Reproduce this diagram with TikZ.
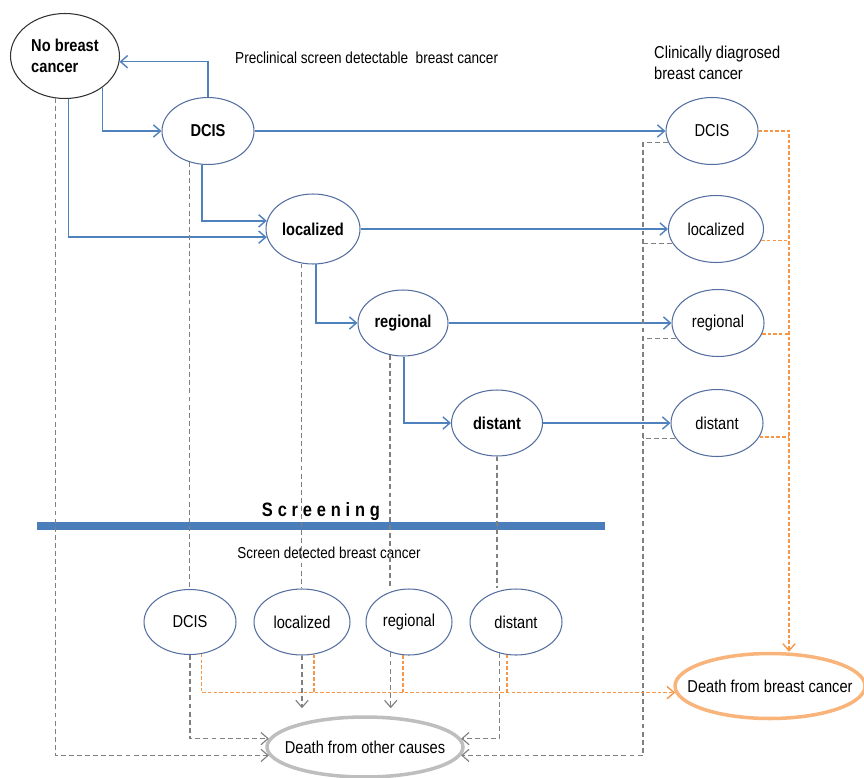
\documentclass[tikz,border=0pt]{standalone}
\usepackage{fontspec}
\setmainfont{Liberation Sans}[FakeStretch=0.85]
\usetikzlibrary{shapes.geometric,arrows.meta}
\definecolor{blucol}{RGB}{79,129,189}
\definecolor{ellcol}{RGB}{84,110,160}
\definecolor{grigiocol}{RGB}{128,128,128}
\definecolor{arancol}{RGB}{247,150,70}
\definecolor{altrecol}{RGB}{190,190,190}
\definecolor{tumorecol}{RGB}{249,180,123}
\definecolor{barracol}{RGB}{74,126,187}
\begin{document}
\begin{tikzpicture}[x=0.02cm,y=-0.02cm,
    font=\fontsize{9.8}{11.6}\selectfont,
    >={Straight Barb[length=4pt,width=7pt]},
    stato/.style={ellipse,draw=ellcol,line width=0.6pt,inner sep=0pt,
      minimum width=1.84cm,minimum height=1.34cm},
    esito/.style={ellipse,line width=2pt,inner ysep=0pt},
    blu/.style={draw=blucol,line width=0.8pt,->},
    grigio/.style={draw=grigiocol,line width=0.65pt,dash pattern=on 2.8pt off 1.8pt},
    arancio/.style={draw=arancol,line width=0.8pt,dash pattern=on 2pt off 1.2pt}]
        % --- cornice -------------------------------------------------------
        \useasboundingbox (0,0) rectangle (864,777);
        \def\gr#1{\textbf{#1}}
        % --- stati preclinici ----------------------------------------------
        \node[stato,draw=black!80,minimum width=2.18cm,minimum height=1.7cm,align=left]
            (nessuno) at (65,56) {\gr{No breast}\\\gr{cancer}};
        \node[stato] (dcis) at (208,131) {\gr{DCIS}};
        \node[stato,minimum width=1.88cm,minimum height=1.4cm] (loc) at (313,229) {\gr{localized}};
        \node[stato,minimum width=1.8cm,minimum height=1.32cm] (reg) at (403,323) {\gr{regional}};
        \node[stato,minimum width=1.82cm,minimum height=1.32cm] (dist) at (497,423) {\gr{distant}};
        % --- stati clinici --------------------------------------------------
        \node[stato] (cdcis) at (712,131) {DCIS};
        \node[stato,minimum width=1.9cm] (cloc) at (716,229) {localized};
        \node[stato] (creg) at (718,323) {regional};
        \node[stato] (cdist) at (717,423) {distant};
        % --- stati da screening ----------------------------------------------
        \node[stato,minimum height=1.3cm] (sdcis) at (190,622) {DCIS};
        \node[stato,minimum width=1.92cm,minimum height=1.32cm] (sloc) at (302,622) {localized};
        \node[stato,minimum width=1.72cm,minimum height=1.32cm] (sreg) at (409,622) {regional};
        \node[stato,minimum width=1.84cm,minimum height=1.32cm] (sdist) at (516,622) {distant};
        % --- esiti ----------------------------------------------------------
        \node[esito,draw=altrecol,inner xsep=-6.5pt,
            minimum width=3.92cm,minimum height=1.2cm] (altre) at (365,747) {Death from other causes};
        \node[esito,draw=tumorecol,inner xsep=-9pt,
            minimum width=3.8cm,minimum height=1.3cm] (tumore) at (770,686) {Death from breast cancer};
        % --- etichette ------------------------------------------------------
        \node[anchor=west,font=\fontsize{9.1}{11}\selectfont] (tprecl) at (229,58)
            {Preclinical screen detectable\ \ breast cancer};
        \node[anchor=north west,align=left] (tclin) at (648,40) {Clinically diagrosed\\breast cancer};
        \node (tscreen) at (321,512) {\fontsize{11}{13}\selectfont\addfontfeature{LetterSpace=25}\bfseries Screening};
        \node[font=\fontsize{9}{11}\selectfont] (tsdet) at (329,553) {Screen detected breast cancer};
        \fill[barracol] (37,522) rectangle (605,530);
        % --- progressione ---------------------------------------------------
        \draw[blu] (dcis.north) |- (nessuno.-6);
        \draw[blu] (nessuno.-40) |- (dcis.west);
        \draw[blu] (nessuno.-85) |- (loc.190);
        \draw[blu] (dcis.-100) |- (loc.170);
        \draw[blu] (loc.-85) |- (reg.west);
        \draw[blu] (reg.-88) |- (dist.west);
        \draw[blu] (dcis.east) -- (cdcis.west);
        \draw[blu] (loc.east) -- (cloc.west);
        \draw[blu] (reg.east) -- (creg.west);
        \draw[blu] (dist.east) -- (cdist.west);
        % --- morte per altre cause ------------------------------------------
        \coordinate (gbus) at (643,0);
        \draw[grigio,->] (nessuno.-103) |- (altre.185);
        \draw[grigio] (dcis.-121) -- (dcis.-121 |- sdcis.north);
        \draw[grigio] (loc.-108) -- (loc.-108 |- sloc.north);
        \draw[grigio] (reg.-112) -- (reg.-112 |- sreg.north);
        \draw[grigio] (dist.south) -- (dist.south |- sdist.north);
        \draw[grigio,->] (sdcis.south) |- (altre.175);
        \draw[grigio,->,shorten >=4pt] (sloc.south) -- (sloc.south |- altre.north);
        \draw[grigio,->,shorten >=4pt] (sreg.-121) -- (sreg.-121 |- altre.north);
        \draw[grigio,->] (sdist.-118) |- (altre.5);
        \draw[grigio,->] (cdcis.195) -- (gbus |- cdcis.195) |- (altre.-5);
        \draw[grigio] (cloc.198) -- (gbus |- cloc.198);
        \draw[grigio] (creg.200) -- (gbus |- creg.200);
        \draw[grigio] (cdist.200) -- (gbus |- cdist.200);
        % --- morte per tumore -----------------------------------------------
        \coordinate (obus) at (789,0);
        \draw[arancio,->] (cdcis.east) -- (obus |- cdcis.east) -- (obus |- tumore.north);
        \draw[arancio] (cloc.-14) -- (obus |- cloc.-14);
        \draw[arancio] (creg.-14) -- (obus |- creg.-14);
        \draw[arancio] (cdist.-18) -- (obus |- cdist.-18);
        \draw[arancio,->] (sdcis.-70) |- (tumore.184);
        \draw[arancio] (sloc.-70) -- (sloc.-70 |- tumore.184);
        \draw[arancio] (sreg.-100) -- (sreg.-100 |- tumore.184);
        \draw[arancio] (sdist.-105) -- (sdist.-105 |- tumore.184);
    \end{tikzpicture}
\end{document}
